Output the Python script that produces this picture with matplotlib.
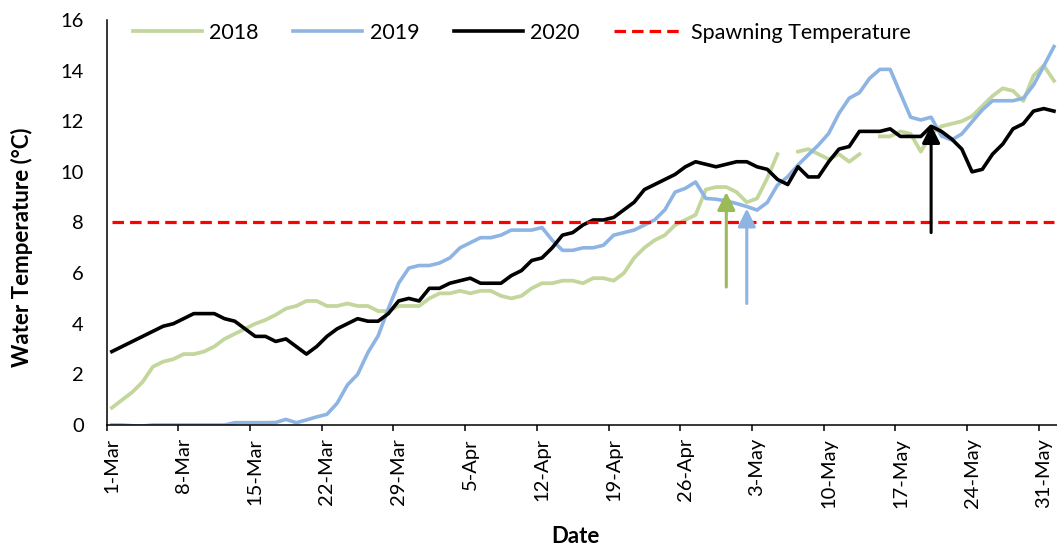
import numpy as np
import matplotlib
matplotlib.use('Agg')
import matplotlib.pyplot as plt

plt.rcParams['font.family'] = ['Lato', 'DejaVu Sans']

nan = np.nan

# daily water temperature (deg C), 1-Mar .. 1-Jun
t2018 = [0.68, 0.99, 1.3, 1.7, 2.3, 2.5, 2.6, 2.8, 2.8, 2.9,
         3.1, 3.4, 3.6, 3.8, 4.0, 4.15, 4.35, 4.6, 4.7, 4.9,
         4.9, 4.7, 4.7, 4.8, 4.7, 4.7, 4.5, 4.5, 4.7, 4.7,
         4.7, 5.0, 5.2, 5.2, 5.3, 5.2, 5.3, 5.3, 5.1, 5.0,
         5.1, 5.4, 5.6, 5.6, 5.7, 5.7, 5.6, 5.8, 5.8, 5.7,
         6.0, 6.6, 7.0, 7.3, 7.5, 7.9, 8.1, 8.3, 9.3, 9.4,
         9.4, 9.2, 8.8, 8.95, 9.75, 10.7, nan, 10.8, 10.9, 10.7,
         10.5, 10.7, 10.4, 10.7, nan, 11.4, 11.4, 11.6, 11.5, 10.8,
         11.5, 11.8, 11.9, 12.0, 12.2, 12.6, 13.0, 13.3, 13.2, 12.8,
         13.8, 14.2, 13.6]

t2019 = [0.0, 0.0, -0.03, -0.04, 0.0, 0.0, 0.0, 0.0, 0.0, 0.0,
         0.0, 0.0, 0.09, 0.09, 0.09, 0.09, 0.1, 0.22, 0.09, 0.2,
         0.32, 0.42, 0.86, 1.58, 2.0, 2.86, 3.52, 4.6, 5.6, 6.2,
         6.3, 6.3, 6.4, 6.6, 7.0, 7.2, 7.4, 7.4, 7.5, 7.7,
         7.7, 7.7, 7.8, 7.3, 6.9, 6.9, 7.0, 7.0, 7.1, 7.5,
         7.6, 7.7, 7.9, 8.1, 8.5, 9.2, 9.35, 9.6, 8.95, 8.92,
         8.85, 8.75, 8.63, 8.49, 8.79, 9.48, 9.81, 10.27, 10.67, 11.06,
         11.52, 12.31, 12.91, 13.13, 13.7, 14.05, 14.05, 13.1, 12.16, 12.05,
         12.16, 11.42, 11.26, 11.5, 11.98, 12.45, 12.81, 12.81, 12.81, 12.91,
         13.43, 14.18, 14.95]

t2020 = [2.9, 3.1, 3.3, 3.5, 3.7, 3.9, 4.0, 4.2, 4.4, 4.4,
         4.4, 4.2, 4.1, 3.8, 3.5, 3.5, 3.3, 3.4, 3.1, 2.8,
         3.1, 3.5, 3.8, 4.0, 4.2, 4.1, 4.1, 4.4, 4.9, 5.0,
         4.9, 5.4, 5.4, 5.6, 5.7, 5.8, 5.6, 5.6, 5.6, 5.9,
         6.1, 6.5, 6.6, 7.0, 7.5, 7.6, 7.9, 8.1, 8.1, 8.2,
         8.5, 8.8, 9.3, 9.5, 9.7, 9.9, 10.2, 10.4, 10.3, 10.2,
         10.3, 10.4, 10.4, 10.2, 10.1, 9.7, 9.5, 10.2, 9.8, 9.8,
         10.4, 10.9, 11.0, 11.6, 11.6, 11.6, 11.7, 11.4, 11.4, 11.4,
         11.8, 11.6, 11.3, 10.9, 10.0, 10.1, 10.7, 11.1, 11.7, 11.9,
         12.4, 12.5, 12.4]

spawn_temp = 8.0

tick_days = [0, 7, 14, 21, 28, 35, 42, 49, 56, 63, 70, 77, 84, 91]
tick_labels = ['1-Mar', '8-Mar', '15-Mar', '22-Mar', '29-Mar', '5-Apr', '12-Apr',
               '19-Apr', '26-Apr', '3-May', '10-May', '17-May', '24-May', '31-May']

# spawning onset markers: (day index, arrow base, arrow tip)
arrow_2018 = (60, 5.45, 9.2)
arrow_2019 = (62, 4.8, 8.55)
arrow_2020 = (80, 7.6, 11.85)

days = np.arange(len(t2020))

c18 = '#C3D69B'
c19 = '#8DB4E2'
c18_arrow = '#9BBB59'

fig = plt.figure(figsize=(10.57, 5.48), dpi=100)
ax = fig.add_axes([0.101, 0.2245, 0.901, 0.739])

ax.plot(days, t2018, color=c18, lw=2.7, label='2018')
ax.plot(days, t2019, color=c19, lw=2.6, label='2019')
ax.plot(days, t2020, color='black', lw=2.6, label='2020')
ax.plot(days, [spawn_temp] * len(days), color='red', lw=2.3,
        linestyle=(0, (3.6, 1.9)), label='Spawning Temperature')

for (d, base, tip), col in [(arrow_2018, c18_arrow), (arrow_2019, c19), (arrow_2020, 'black')]:
    ax.annotate('', xy=(d, tip), xytext=(d, base),
                arrowprops=dict(arrowstyle='-|>', color=col, lw=2.2,
                                mutation_scale=27, shrinkA=0, shrinkB=0),
                zorder=5)

ax.set_xlim(-0.5, len(days) - 0.5)
ax.set_ylim(0, 16)
ax.set_yticks(range(0, 17, 2))
ax.set_xticks(tick_days)
ax.set_xticklabels(tick_labels, rotation=90)
ax.set_xticks(np.array(tick_days) - 0.5, minor=True)
ax.tick_params(axis='x', which='major', length=0, pad=9.5, labelsize=14.5)
ax.tick_params(axis='x', which='minor', length=4.3, width=1.1, direction='out')
ax.tick_params(axis='y', length=0, pad=16.5, labelsize=14.5)

for s in ['top', 'right']:
    ax.spines[s].set_visible(False)
for s in ['left', 'bottom']:
    ax.spines[s].set_linewidth(1.1)

ax.set_ylabel('Water Temperature (°C)', fontsize=16, fontweight='bold')
ax.yaxis.set_label_coords(-0.089, 0.44)
ax.yaxis.label.set_va('center')
ax.set_xlabel('Date', fontsize=16, fontweight='bold')
ax.xaxis.set_label_coords(0.4918, -0.2765)
ax.xaxis.label.set_va('center')

ax.legend(loc='center left', bbox_to_anchor=(133 / 1057, 1 - 33 / 548),
          bbox_transform=fig.transFigure, ncol=4, frameon=False, fontsize=15.5,
          handlelength=3.2, handletextpad=0.35, columnspacing=1.6,
          borderaxespad=0, borderpad=0)

fig.savefig('out.png', dpi=100)
